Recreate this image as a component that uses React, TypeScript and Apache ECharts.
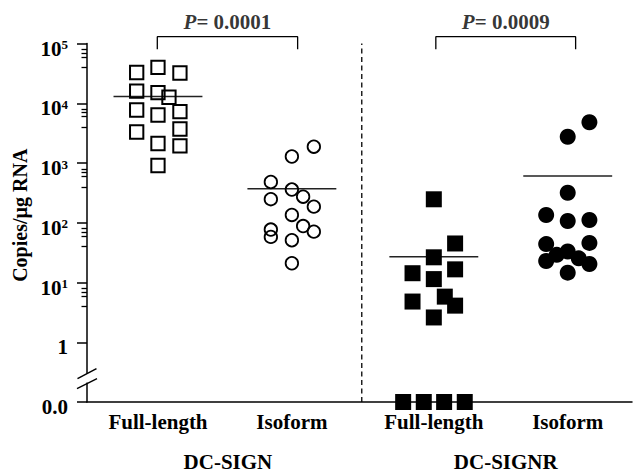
import React, { useEffect, useRef } from "react";
import * as echarts from "echarts";

// ---- data (copies/µg RNA; 0 = undetectable, drawn on the 0.0 break) ----
const categories = ["Full-length", "Isoform", "Full-length", "Isoform"];
const groupNames = ["DC-SIGN", "DC-SIGNR"];
const groupX = [1, 2, 3.06, 4.06];
const pValues = ["0.0001", "0.0009"];
const bracketX = [
  [0.995, 2.043],
  [3.075, 4.119],
];

const signFullValues = [32700, 39700, 32100, 16000, 15100, 12600, 7710, 6360, 7220, 3710, 3300, 2120, 1930, 908];
const signFullJitter = [-0.159, 0, 0.164, -0.159, 0, 0.082, -0.159, 0, 0.164, 0.164, -0.159, 0, 0.164, 0];

const signIsoValues = [1875, 1285, 481, 360, 273, 248, 186, 135, 88, 71, 77, 58, 51, 21];
const signIsoJitter = [0.164, 0, -0.157, 0, 0.084, -0.157, 0.164, 0, 0.084, 0.164, -0.157, -0.157, 0, 0];

const signrFullValues = [247, 45, 26.4, 14.3, 16.6, 11.4, 5.8, 4.8, 4.1, 2.6, 0, 0, 0, 0];
const signrFullJitter = [0, 0.159, 0, -0.159, 0.159, 0, 0.082, -0.159, 0.159, 0, -0.229, -0.075, 0.077, 0.231];

const signrIsoValues = [4800, 2750, 318, 135, 107, 111, 46, 44, 33, 29, 25.4, 22.9, 20.4, 14.6];
const signrIsoJitter = [0.162, 0, 0, -0.161, 0, 0.162, 0.162, -0.161, 0, -0.082, 0.082, -0.161, 0.162, 0];

const minorTickMultipliers = [4, 6, 7, 8];

// ---- helpers ----
const FONT = "'Liberation Serif', 'Times New Roman', Times, serif";
const toY = (v: number) => (v > 0 ? Math.log10(v) : -1);
const mean = (a: number[]) => a.reduce((s, v) => s + v, 0) / a.length;

const groups = [
  { values: signFullValues, jitter: signFullJitter, symbol: "rect", size: 13.3, filled: false, border: 2 },
  { values: signIsoValues, jitter: signIsoJitter, symbol: "circle", size: 12.5, filled: false, border: 1.8 },
  { values: signrFullValues, jitter: signrFullJitter, symbol: "rect", size: 16, filled: true, border: 0 },
  { values: signrIsoValues, jitter: signrIsoJitter, symbol: "circle", size: 16, filled: true, border: 0 },
];

const MEAN_HALF = 0.332;
const SEPARATOR_X = 2.522;

export default function App() {
  const ref = useRef<HTMLDivElement>(null);

  useEffect(() => {
    if (!ref.current) return;
    const chart = echarts.init(ref.current, null, { renderer: "svg" });

    const minorTicks: number[] = [];
    for (let n = 0; n < 5; n++) {
      minorTickMultipliers.forEach((k) => minorTicks.push(n + Math.log10(k)));
    }

    const series: any[] = [];

    // mean lines
    groups.forEach((g, i) => {
      const m = toY(mean(g.values));
      series.push({
        type: "line",
        data: [
          [groupX[i] - MEAN_HALF, m],
          [groupX[i] + MEAN_HALF, m],
        ],
        symbol: "none",
        lineStyle: { color: "#222", width: 1.5 },
        z: 1,
        silent: true,
      });
    });

    // separator
    series.push({
      type: "line",
      data: [
        [SEPARATOR_X, -1],
        [SEPARATOR_X, 5],
      ],
      symbol: "none",
      lineStyle: { color: "#000", width: 1.3, type: [5, 3.5] },
      silent: true,
    });

    // scatter groups
    groups.forEach((g, i) => {
      series.push({
        type: "scatter",
        clip: false,
        symbol: g.symbol,
        symbolSize: g.size,
        data: g.values.map((v, j) => [groupX[i] + g.jitter[j], toY(v)]),
        itemStyle: g.filled
          ? { color: "#000", opacity: 1 }
          : { color: "rgba(0,0,0,0)", borderColor: "#000", borderWidth: g.border, opacity: 1 },
        z: 3,
      });
    });

    // p-value brackets
    const bTop = 5.114;
    const bLow = 4.903;
    bracketX.forEach((b, i) => {
      series.push({
        type: "line",
        clip: false,
        data: [
          [b[0], bLow],
          [b[0], bTop],
          [b[1], bTop],
          [b[1], bLow],
        ],
        symbol: "none",
        lineStyle: { color: "#000", width: 1.3 },
        silent: true,
      });
      series.push({
        type: "scatter",
        clip: false,
        symbolSize: 0,
        data: [[(b[0] + b[1]) / 2, bTop]],
        silent: true,
        label: {
          show: true,
          position: "top",
          distance: 4,
          formatter: `{i|P}{b|= ${pValues[i]}}`,
          rich: {
            i: { fontFamily: FONT, fontSize: 21, fontWeight: "bold", fontStyle: "italic", color: "#000" },
            b: { fontFamily: FONT, fontSize: 21, fontWeight: "bold", color: "#000" },
          },
        },
      });
    });

    chart.setOption({
      animation: false,
      grid: { left: 87, right: 1, top: 43.5, bottom: 71, containLabel: false },
      xAxis: {
        type: "value",
        min: 0.47,
        max: 4.54,
        splitLine: { show: false },
        axisTick: { show: false },
        axisLine: { show: true, onZero: false, lineStyle: { color: "#000", width: 1.5 } },
        axisLabel: {
          customValues: groupX,
          formatter: (v: number) => {
            const idx = groupX.findIndex((g) => Math.abs(g - v) < 1e-6);
            return idx >= 0 ? categories[idx] : "";
          },
          margin: 9,
          fontFamily: FONT,
          fontSize: 21,
          fontWeight: "bold",
          color: "#000",
        },
      },
      yAxis: [
        {
          type: "value",
          position: "left",
          min: -1,
          max: 5,
          interval: 1,
          splitLine: { show: false },
          axisLine: { show: true, onZero: false, lineStyle: { color: "#000", width: 1.5 } },
          axisTick: { show: true, length: 10, lineStyle: { color: "#000", width: 1.5 } },
          axisLabel: {
            margin: 19,
            padding: [10, 0, 0, 0],
            formatter: (v: number) => {
              if (v === -1) return "{b|0.0}";
              if (v === 0) return "{b|1}";
              return `{bb|10}{s|${v}}`;
            },
            rich: {
              b: { fontFamily: FONT, fontSize: 21, fontWeight: "bold", color: "#000", lineHeight: 21 },
              bb: { fontFamily: FONT, fontSize: 21, fontWeight: "bold", color: "#000", lineHeight: 21, verticalAlign: "bottom" },
              s: { fontFamily: FONT, fontSize: 13, fontWeight: "bold", color: "#000", lineHeight: 13, verticalAlign: "top", padding: [0, 0, 10, 0] },
            },
          },
        },
        {
          type: "value",
          position: "left",
          offset: 0,
          min: -1,
          max: 5,
          splitLine: { show: false },
          axisLine: { show: false, onZero: false },
          axisLabel: { show: false },
          axisTick: {
            show: true,
            length: 5.5,
            customValues: minorTicks,
            lineStyle: { color: "#000", width: 1.3 },
          },
        },
      ],
      series,
    });

    // annotations positioned through the axes
    const px = (x: number, y: number) => chart.convertToPixel({ gridIndex: 0 }, [x, y]) as number[];
    const axisBottom = px(0.47, -1);
    const axisTop = px(0.47, 5);
    const brk = px(0.47, -0.6);
    const ax = axisBottom[0];
    const by = brk[1];
    const mid1 = px((groupX[0] + groupX[1]) / 2, -1);
    const mid2 = px((groupX[2] + groupX[3]) / 2, -1);
    const textStyle = { fontFamily: FONT, fontSize: 21, fontWeight: "bold", fill: "#000", align: "center", verticalAlign: "middle" };

    chart.setOption({
      graphic: [
        {
          type: "text",
          x: 20,
          y: (axisBottom[1] + axisTop[1]) / 2 - 7.5,
          rotation: Math.PI / 2,
          style: { ...textStyle, fontSize: 20, text: "Copies/µg RNA" },
        },
        { type: "text", x: mid1[0] + 3, y: axisBottom[1] + 59.5, style: { ...textStyle, text: groupNames[0] } },
        { type: "text", x: mid2[0] + 5, y: axisBottom[1] + 59.5, style: { ...textStyle, text: groupNames[1] } },
        { type: "rect", z: 100, shape: { x: ax - 3, y: by - 4.5, width: 6, height: 9 }, style: { fill: "#fff" } },
        { type: "line", z: 101, shape: { x1: ax - 9.5, y1: by + 0.5, x2: ax + 9.5, y2: by - 9.5 }, style: { stroke: "#000", lineWidth: 1.5 } },
        { type: "line", z: 101, shape: { x1: ax - 10, y1: by + 10.5, x2: ax + 10, y2: by + 0.5 }, style: { stroke: "#000", lineWidth: 1.5 } },
      ],
    });

    return () => chart.dispose();
  }, []);

  return (
    <div
      ref={ref}
      style={{ position: "fixed", left: 0, top: 0, width: 633, height: 473, background: "#fff" }}
    />
  );
}
